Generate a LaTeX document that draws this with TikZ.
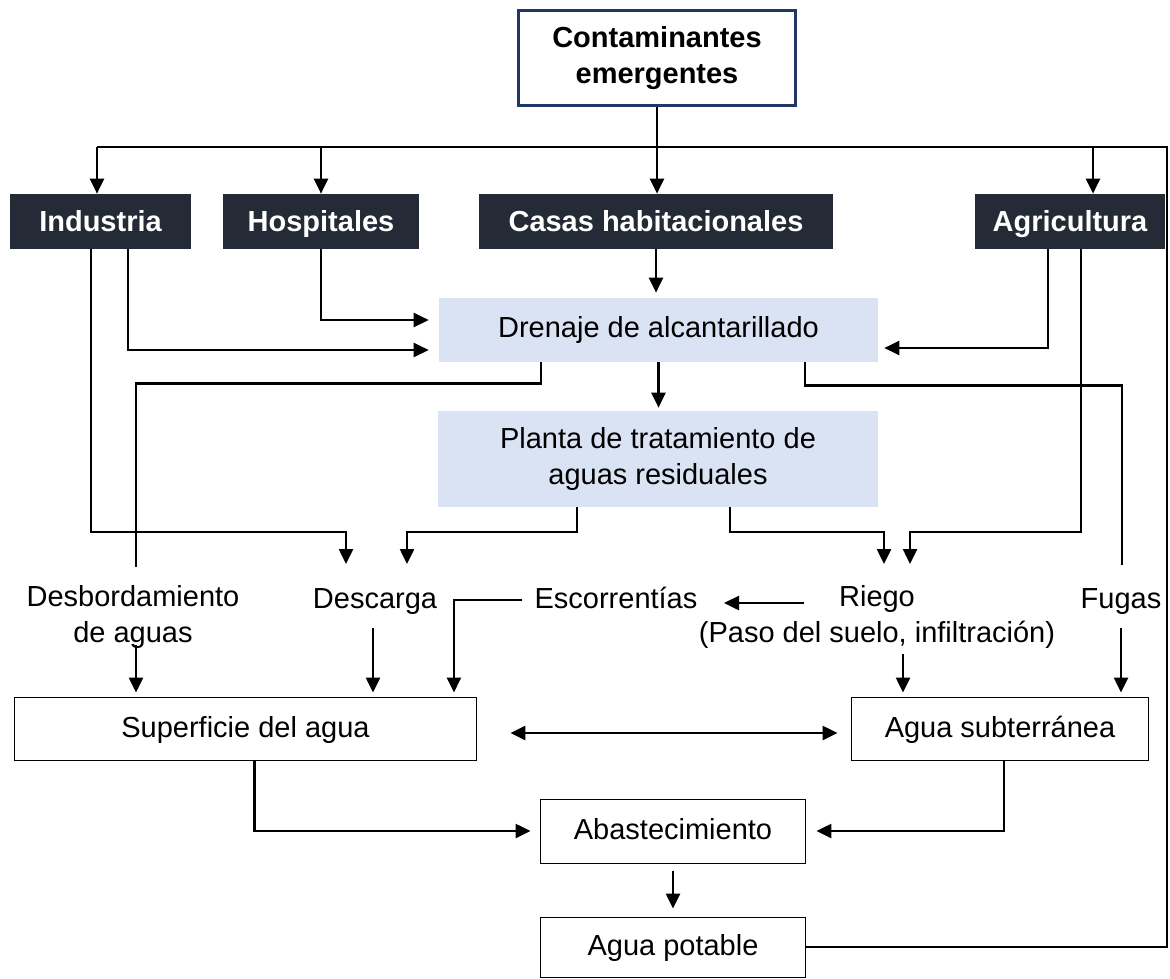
\documentclass[tikz,border=0pt]{standalone}
\usepackage{fontspec}
\setmainfont{Liberation Sans}
\usepackage{tikz}
\usetikzlibrary{arrows.meta}
\definecolor{boxnavy}{HTML}{1F3864}
\definecolor{boxdark}{HTML}{242A36}
\definecolor{boxblue}{HTML}{DAE3F3}
\newcommand{\flowfont}{\fontsize{16.5}{20}\selectfont}
\tikzset{headbox/.style={draw=boxnavy,line width=0.06cm,fill=white,font=\flowfont\bfseries,align=center,minimum width=5.54cm,minimum height=1.9cm,inner sep=0},
    darkbox/.style={fill=boxdark,text=white,font=\flowfont\bfseries,minimum height=1.1cm,inner sep=0,text height=12pt,text depth=0.5pt},
    bluebox/.style={fill=boxblue,font=\flowfont,align=center,inner sep=0},
    whitebox/.style={draw,line width=0.02cm,font=\flowfont,minimum height=1.26cm,inner sep=0,text height=12pt,text depth=2pt},
    plaintext/.style={font=\flowfont,align=center,inner sep=0},
    onelabel/.style={plaintext,text height=12pt,text depth=3.5pt},
    flowline/.style={line width=0.05cm},
    flow/.style={flowline,-{Triangle[length=0.3cm,width=0.28cm]}},
    twoway/.style={flowline,{Triangle[length=0.3cm,width=0.28cm]}-{Triangle[length=0.3cm,width=0.28cm]}}
}
\begin{document}
\begin{tikzpicture}[x=0.02cm,y=-0.02cm]
\useasboundingbox (0,0) rectangle (1170,978);

% sources
\node (cont) at (657,58) [headbox] {Contaminantes\\emergentes};
\node (ind) at (100.5,221.5) [darkbox,minimum width=3.62cm] {Industria};
\node (hosp) at (321,221.5) [darkbox,minimum width=3.92cm] {Hospitales};
\node (casas) at (656,221.5) [darkbox,minimum width=7.08cm] {Casas habitacionales};
\node (agri) at (1070,221.5) [darkbox,minimum width=3.8cm] {Agricultura};

% treatment
\node (dren) at (658.5,330) [bluebox,minimum width=8.78cm,minimum height=1.28cm] {Drenaje de alcantarillado};
\node (planta) at (658,459) [bluebox,minimum width=8.8cm,minimum height=1.92cm] {Planta de tratamiento de\\aguas residuales};

% pathways
\node (desb) at (133,617) [plaintext] {Desbordamiento\\de aguas};
\node (desc) at (375,601) [onelabel] {Descarga};
\node (esc) at (616,601) [onelabel] {Escorrentías};
\node (riego) at (877,617) [plaintext] {Riego\\(Paso del suelo, infiltración)};
\node (fug) at (1121,601) [onelabel] {Fugas};

% water
\node (sup) at (245.5,728.5) [whitebox,minimum width=9.26cm] {Superficie del agua};
\node (sub) at (1000,728.5) [whitebox,minimum width=5.96cm] {Agua subterránea};
\node (abast) at (673,831) [whitebox,minimum width=5.32cm,minimum height=1.28cm] {Abastecimiento};
\node (potable) at (673,947) [whitebox,minimum width=5.32cm,minimum height=1.2cm] {Agua potable};

% ports next to the labels
\coordinate (busI) at (97,147);
\coordinate (busR) at (1167,147);
\coordinate (desbIn) at (136,567);
\coordinate (desbOut) at (136,645);
\coordinate (descInA) at (346,564);
\coordinate (descInB) at (407,564);
\coordinate (descOut) at (373,628);
\coordinate (escIn) at (724,603);
\coordinate (escOut) at (522,600);
\coordinate (riegoInA) at (884,564);
\coordinate (riegoInB) at (910,564);
\coordinate (riegoOutL) at (804,603);
\coordinate (riegoOut) at (903,654);
\coordinate (fugIn) at (1122,565);
\coordinate (fugOut) at (1121,628);

\draw [flowline] (cont.south) -- (cont.south |- busI);
\draw [flowline] (potable.east) -| (busR) -- (busI);
\foreach \src/\x in {ind/97,hosp/321,casas/657,agri/1093}
{
    \coordinate (tap) at (\x,147);
    \draw [flow] (tap) -- (tap |- \src.north);
}

\draw [flow,shorten >=0.1cm] (casas.south) -- (casas.south |- dren.north);
\draw [flow,shorten >=0.2cm] (hosp.south) |- ([yshift=0.2cm]dren.west);
\draw [flow,shorten >=0.2cm] ([xshift=0.55cm]ind.south) |- ([yshift=-0.4cm]dren.west);
\draw [flow,shorten >=0.12cm] ([xshift=-0.44cm]agri.south) |- ([yshift=-0.36cm]dren.east);
\draw [flow,shorten >=0.06cm] (dren.south) -- (dren.south |- planta.north);

\draw [flowline] ([xshift=-2.35cm]dren.south) -- ++(0,21) -| (desbIn);
\draw [flowline] ([xshift=2.93cm]dren.south) -- ++(0,23) -| (fugIn);
\draw [flow] ([xshift=-0.19cm]ind.south) |- ([yshift=0.64cm]descInA) -- (descInA);
\draw [flow] ([xshift=-1.62cm]planta.south) |- ([yshift=0.64cm]descInB) -- (descInB);
\draw [flow] ([xshift=1.44cm]planta.south) |- ([yshift=0.64cm]riegoInA) -- (riegoInA);
\draw [flow] ([xshift=0.22cm]agri.south) |- ([yshift=0.64cm]riegoInB) -- (riegoInB);

\draw [flow,shorten >=0.08cm] (escOut) -| ([xshift=4.17cm]sup.north);
\draw [flow] (riegoOutL) -- (escIn);
\draw [flow,shorten >=0.08cm] (desbOut) -- (desbOut |- sup.north);
\draw [flow,shorten >=0.08cm] (descOut) -- (descOut |- sup.north);
\draw [flow,shorten >=0.08cm] (riegoOut) -- (riegoOut |- sub.north);
\draw [flow,shorten >=0.08cm] (fugOut) -- (fugOut |- sub.north);
\draw [twoway,shorten <=0.66cm,shorten >=0.26cm] ([yshift=-0.09cm]sup.east) -- ([yshift=-0.09cm]sub.west);

\draw [flow,shorten >=0.18cm] ([xshift=0.18cm]sup.south) |- (abast.west);
\draw [flow,shorten >=0.2cm] ([xshift=0.08cm]sub.south) |- (abast.east);
\draw [flow,shorten <=0.14cm,shorten >=0.16cm] (abast.south) -- (potable.north);

\end{tikzpicture}
\end{document}
